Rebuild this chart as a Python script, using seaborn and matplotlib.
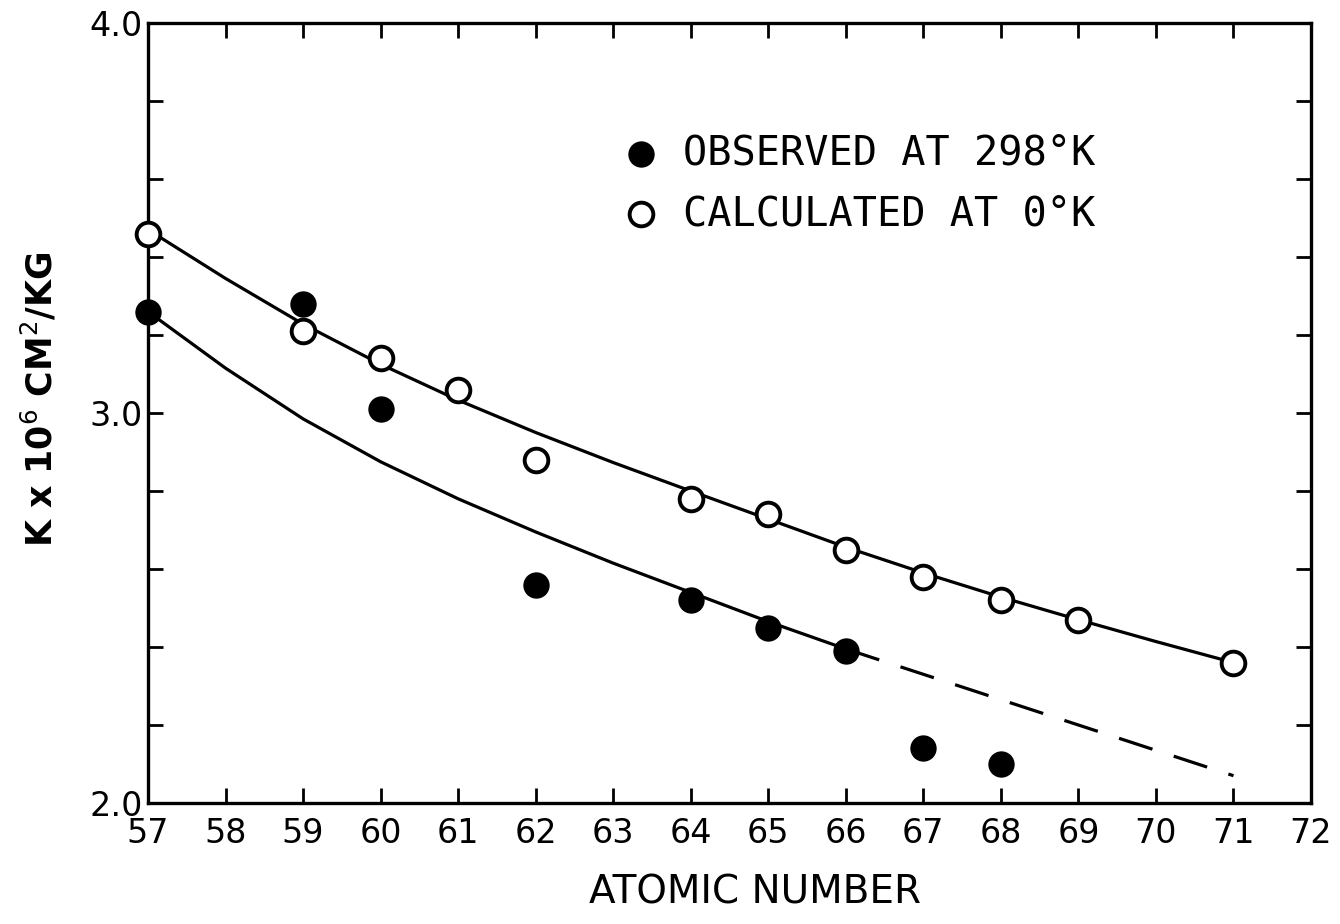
import numpy as np
import pandas as pd
import seaborn as sns
import matplotlib.pyplot as plt
from matplotlib.ticker import MultipleLocator, FixedLocator

# measured points
obs_z = [57, 59, 60, 62, 64, 65, 66, 67, 68]
obs_k = [3.26, 3.28, 3.01, 2.56, 2.52, 2.45, 2.39, 2.14, 2.10]

calc_z = [57, 59, 60, 61, 62, 64, 65, 66, 67, 68, 69, 71]
calc_k = [3.46, 3.21, 3.14, 3.06, 2.88, 2.78, 2.74, 2.65, 2.58, 2.52, 2.47, 2.36]

# drawn curves (at each atomic number)
upper_z = [57, 58, 59, 60, 61, 62, 63, 64, 65, 66, 67, 68, 69, 70, 71]
upper_k = [3.47, 3.345, 3.228, 3.125, 3.033, 2.950, 2.873, 2.800, 2.728, 2.656,
           2.590, 2.528, 2.470, 2.414, 2.360]

lower_z = [57, 58, 59, 60, 61, 62, 63, 64, 65, 66]
lower_k = [3.26, 3.115, 2.985, 2.875, 2.780, 2.695, 2.615, 2.540, 2.465, 2.395]

dash_z = [66, 67, 68, 69, 70, 71]
dash_k = [2.395, 2.33, 2.265, 2.20, 2.135, 2.07]

xticks = list(range(57, 73))

sns.set_style("ticks")
plt.rcParams['font.family'] = ['DejaVu Sans']
plt.rcParams['text.color'] = 'black'
plt.rcParams['axes.labelcolor'] = 'black'
plt.rcParams['xtick.color'] = 'black'
plt.rcParams['ytick.color'] = 'black'

fig = plt.figure(figsize=(13.4, 9.24), dpi=100)
ax = fig.add_axes([148/1340, 1 - 803/924, (1311-148)/1340, (803-23)/924])

sns.lineplot(x=upper_z, y=upper_k, ax=ax, color='black', lw=2.3, zorder=2)
sns.lineplot(x=lower_z, y=lower_k, ax=ax, color='black', lw=2.3, zorder=2)
sns.lineplot(x=dash_z, y=dash_k, ax=ax, color='black', lw=2.3, zorder=2)
ax.lines[-1].set_dashes((11, 7))

sns.scatterplot(x=obs_z, y=obs_k, ax=ax, s=360, color='black', edgecolor='black',
                linewidth=0, zorder=4, label="OBSERVED AT 298°K", clip_on=False)
sns.scatterplot(x=calc_z, y=calc_k, ax=ax, s=290, facecolor='white', edgecolor='black',
                linewidth=2.8, zorder=4, label="CALCULATED AT 0°K", clip_on=False)

ax.set_xlim(57, 72)
ax.set_ylim(2.0, 4.0)
ax.xaxis.set_major_locator(FixedLocator(xticks))
ax.set_xticklabels([str(t) for t in xticks])
ax.yaxis.set_major_locator(FixedLocator([2.0, 3.0, 4.0]))
ax.yaxis.set_minor_locator(MultipleLocator(0.2))
ax.set_yticklabels(["2.0", "3.0", "4.0"])

for s in ax.spines.values():
    s.set_visible(True)
    s.set_linewidth(2.4)
    s.set_color('black')

ax.tick_params(axis='both', which='both', direction='in', top=True, right=True,
               length=11, width=2.0, color='black')
ax.tick_params(axis='x', labelsize=24, pad=10)
ax.tick_params(axis='y', labelsize=24, pad=4)

ax.set_xlabel("ATOMIC NUMBER", fontsize=28, va='center')
ax.xaxis.set_label_coords(0.522, -0.115)
ax.set_ylabel(r"K x 10$^6$ CM$^2$/KG", fontsize=25, fontweight='bold', va='center')
ax.yaxis.set_label_coords(-0.093, 0.517)

leg = ax.legend(loc='center left', bbox_to_anchor=(0.4067, 0.7936), frameon=False,
                prop={'family': 'DejaVu Sans Mono', 'size': 29},
                handlelength=1.0, handletextpad=0.55, labelspacing=0.5,
                borderpad=0, borderaxespad=0)

fig.savefig("out.png", dpi=100)
